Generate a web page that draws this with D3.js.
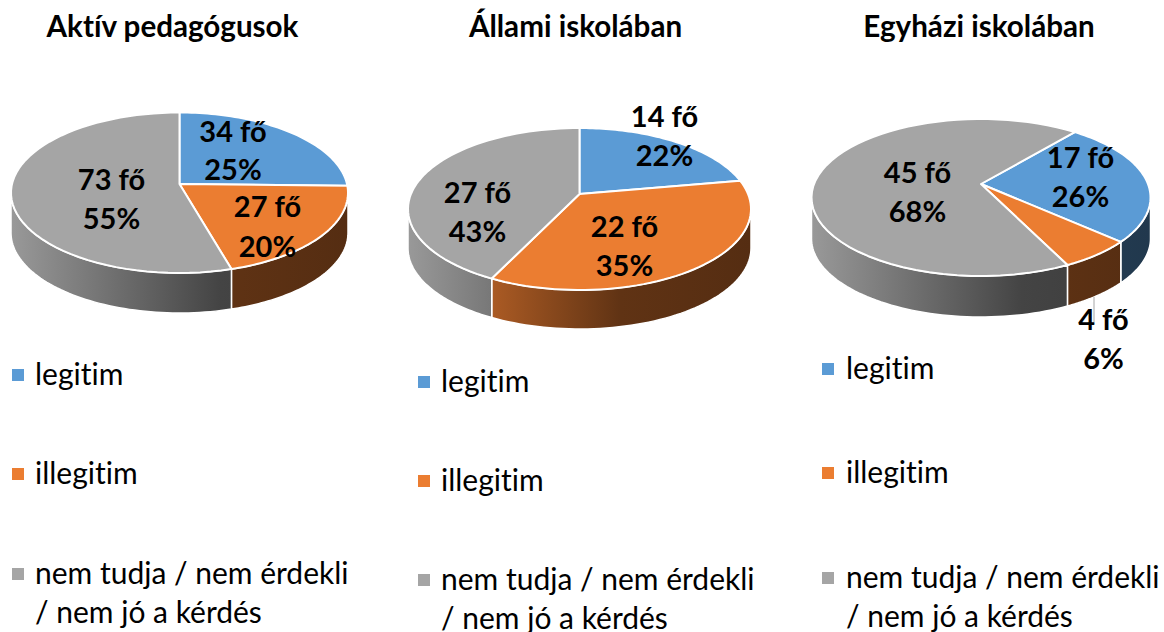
<!DOCTYPE html>
<html><head><meta charset="utf-8">
<script src="https://cdn.jsdelivr.net/npm/d3@7"></script>
<style>html,body{margin:0;padding:0;background:#fff}svg{display:block}text{font-family:Lato,"Open Sans",sans-serif;fill:#000;font-variant-ligatures:none}</style>
</head><body><svg id="c" width="1164" height="632"></svg>
<script>
const categories = ["legitim", "illegitim", "nem tudja / nem érdekli|/ nem jó a kérdés"];
const titles = ["Aktív pedagógusok", "Állami iskolában", "Egyházi iskolában"];
const values1 = [34, 27, 73];
const values2 = [14, 22, 27];
const values3 = [17, 4, 45];
const percents1 = [25, 20, 55];
const percents2 = [22, 35, 43];
const percents3 = [26, 6, 68];
const colors = ["#5b9bd5", "#eb7d31", "#a5a5a5"];

// layout only
const layouts = [
  {cx:179.5, cy:184, rx:168.5, up:71.5, down:89, depth:40, rot:0, titleX:172.5,
   labels:[[233,142,180],[267.5,217,257],[111.5,190,229]],
   lx:12, tx:35, ly:[375,474,574]},
  {cx:579.5, cy:194, rx:171.5, up:66, down:96, depth:39, rot:0, titleX:575.5,
   labels:[[664.5,127,166],[624.5,237,276],[477.5,203,242]],
   lx:418, tx:441, ly:[382,481,580]},
  {cx:981, cy:184, rx:169.5, up:65, down:92, depth:41, rot:39.5, titleX:979,
   labels:[[1080.5,168,207],[1103.5,330,369],[917.5,183,222]],
   lx:822, tx:846, ly:[369,473,578], leader:[1094,297,322]}
];
const allValues = [values1, values2, values3];
const allPercents = [percents1, percents2, percents3];

const svg = d3.select("#c");
const defs = svg.append("defs");
const color = d3.scaleOrdinal().domain(categories).range(colors);
const wallStops = [[0,0.93],[0.62,0.41],[1,0.36]];

allValues.forEach((vals, pi) => {
  const L = layouts[pi];
  const g = svg.append("g");
  const k = (L.down - L.up) / (L.down + L.up);
  const a = L.down * (1 - k);
  const A = L.rx * Math.sqrt(1 - k * k);
  const proj = (t, dy = 0) => {
    const w = 1 + k * Math.cos(t);
    return [L.cx + A * Math.sin(t) / w, L.cy + dy - a * Math.cos(t) / w];
  };
  const rot = L.rot * Math.PI / 180;
  const arcs = d3.pie().sort(null).startAngle(rot).endAngle(rot + 2 * Math.PI)(vals);
  const tR = Math.acos(-k), tL = 2 * Math.PI - tR;
  const line = d3.line();
  const samples = (s, e) => d3.range(0, 61).map(i => s + (e - s) * i / 60);

  // walls
  const wallSpans = [];
  arcs.forEach((d, i) => {
    [0, 2 * Math.PI].forEach(shift => {
      const s = Math.max(d.startAngle, tR + shift), e = Math.min(d.endAngle, tL + shift);
      if (e > s) wallSpans.push({i, s, e});
    });
  });
  colors.forEach((c, i) => {
    const gr = defs.append("linearGradient").attr("id", `w${pi}-${i}`)
      .attr("gradientUnits", "userSpaceOnUse")
      .attr("x1", L.cx - L.rx).attr("x2", L.cx + L.rx).attr("y1", 0).attr("y2", 0);
    wallStops.forEach(([o, f]) => {
      const q = d3.rgb(c);
      gr.append("stop").attr("offset", o)
        .attr("stop-color", d3.rgb(q.r * f, q.g * f, q.b * f).formatHex());
    });
  });
  g.selectAll("path.wall").data(wallSpans).join("path").attr("class", "wall")
    .attr("d", d => {
      const ts = samples(d.s, d.e);
      return line([...ts.map(t => proj(t)), ...ts.slice().reverse().map(t => proj(t, L.depth))]) + "Z";
    })
    .attr("fill", d => `url(#w${pi}-${d.i})`)
    .attr("stroke", "#fff").attr("stroke-width", 1.5).attr("stroke-linejoin", "round");

  // top faces
  g.selectAll("path.top").data(arcs).join("path").attr("class", "top")
    .attr("d", d => line([[L.cx, L.cy], ...samples(d.startAngle, d.endAngle).map(t => proj(t))]) + "Z")
    .attr("fill", d => color(categories[d.index]))
    .attr("stroke", "#fff").attr("stroke-width", 2).attr("stroke-linejoin", "round");

  // leader
  if (L.leader) g.append("line").attr("x1", L.leader[0]).attr("x2", L.leader[0])
    .attr("y1", L.leader[1]).attr("y2", L.leader[2]).attr("stroke", "#a6a6a6").attr("stroke-width", 1);

  // title
  g.append("text").attr("x", L.titleX).attr("y", 37).attr("text-anchor", "middle")
    .attr("font-size", 29.6).attr("font-weight", 700).text(titles[pi]);

  // labels
  vals.forEach((v, i) => {
    const [x, y1, y2] = L.labels[i];
    g.append("text").attr("x", x).attr("y", y1).attr("text-anchor", "middle")
      .attr("font-size", 29).attr("font-weight", 700).text(`${v} fő`);
    g.append("text").attr("x", x).attr("y", y2).attr("text-anchor", "middle")
      .attr("font-size", 29).attr("font-weight", 700).text(`${allPercents[pi][i]}%`);
  });

  // legend
  categories.forEach((c, i) => {
    g.append("rect").attr("x", L.lx).attr("y", L.ly[i] - 6).attr("width", 12).attr("height", 12).attr("fill", colors[i]);
    c.split("|").forEach((t, j) => {
      g.append("text").attr("x", L.tx).attr("y", L.ly[i] + 10 + j * 39)
        .attr("font-size", 30).text(t);
    });
  });
});
</script></body></html>
